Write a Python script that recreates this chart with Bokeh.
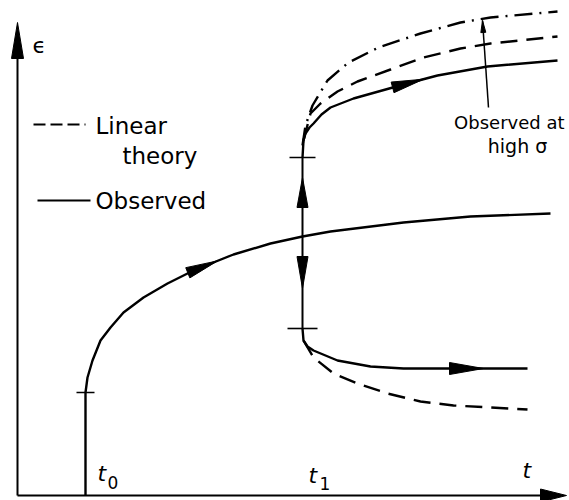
import numpy as np
from bokeh.plotting import figure
from bokeh.models import Range1d, Label
from bokeh.embed import file_html
from bokeh.resources import INLINE

# ---- data: time t, strain eps (arbitrary units) ----
t0, t1 = 68, 285
axis_t_end, axis_eps_end = 549, 473

primary_t = [68, 68, 70, 75, 83, 93, 106, 126, 150, 176, 216, 253, 285, 313, 386, 453, 533]
primary_eps = [0, 103, 118, 135, 155, 168, 183, 198, 212, 225, 241, 252, 259, 264, 273, 279, 282]

upper_obs_t = [285, 286, 288, 292, 296, 304, 313, 336, 386, 420, 470, 540]
upper_obs_eps = [338, 355, 362, 368, 372, 381, 388, 397, 411, 420, 429, 435]

upper_lin_t = [286, 293, 303, 320, 340, 373, 406, 443, 473, 540]
upper_lin_eps = [355, 382, 392, 404, 414, 426, 438, 447, 452, 459]

upper_high_t = [285, 288, 295, 310, 331, 361, 403, 443, 473, 540]
upper_high_eps = [350, 370, 390, 415, 433, 448, 462, 473, 478, 484]

lower_obs_t = [285, 286, 290, 296, 320, 353, 386, 510]
lower_obs_eps = [167, 155, 149, 145, 135, 129, 127, 127]

lower_lin_t = [286, 296, 316, 340, 370, 403, 436, 510]
lower_lin_eps = [155, 138, 122, 112, 102, 94, 90, 86]

t1_upper_eps, t1_lower_eps = 338, 167
t0_mark_eps = 103

pointer_t = [471, 465]
pointer_eps = [388, 475]

x_min, x_max = -17, 552
y_min, y_max = -5, 495

p = figure(width=569, height=500, output_backend="svg", toolbar_location=None,
           x_range=Range1d(x_min, x_max), y_range=Range1d(y_min, y_max),
           x_axis_type=None, y_axis_type=None, min_border=0)
p.grid.visible = False
p.outline_line_color = None
p.background_fill_color = "white"

LW = 2.4
K = "black"

# axes
p.line([0, 0], [0, axis_eps_end - 10], line_color=K, line_width=2)
p.line([0, axis_t_end - 10], [0, 0], line_color=K, line_width=2)

# curves
p.line(primary_t, primary_eps, line_color=K, line_width=LW)
p.line(upper_obs_t, upper_obs_eps, line_color=K, line_width=LW)
p.line(lower_obs_t, lower_obs_eps, line_color=K, line_width=LW)
p.line(upper_lin_t, upper_lin_eps, line_color=K, line_width=LW, line_dash="17 9")
p.line(lower_lin_t, lower_lin_eps, line_color=K, line_width=LW, line_dash="17 9")
p.line(upper_high_t, upper_high_eps, line_color=K, line_width=LW, line_dash="18 7 2 7")

# vertical at t1
p.line([t1, t1], [t1_lower_eps, t1_upper_eps], line_color=K, line_width=2)

# marks
p.segment(x0=[t0 - 9, t1 - 13, t1 - 15], y0=[t0_mark_eps, t1_upper_eps, t1_lower_eps],
          x1=[t0 + 9, t1 + 13, t1 + 15], y1=[t0_mark_eps, t1_upper_eps, t1_lower_eps],
          line_color=K, line_width=1.6)

# pointer
p.line(pointer_t, pointer_eps, line_color=K, line_width=1.5)


def tri(x, y, d, length, width):
    d = np.asarray(d, float)
    d = d / np.hypot(*d)
    n = np.array([-d[1], d[0]])
    b = np.array([x, y]) - d * length
    pts = [np.array([x, y]), b + n * width / 2, b - n * width / 2]
    return [q[0] for q in pts], [q[1] for q in pts]


def head_on(xs, ys, x_tip, length, width):
    """triangle head whose tip lies on a polyline at x_tip"""
    y_tip = float(np.interp(x_tip, xs, ys))
    y_back = float(np.interp(x_tip - 5, xs, ys))
    return tri(x_tip, y_tip, (5.0, y_tip - y_back), length, width)


heads = [
    head_on(primary_t, primary_eps, 200, 32, 11),
    head_on(upper_obs_t, upper_obs_eps, 406, 32, 11),
    head_on(lower_obs_t, lower_obs_eps, 466, 34, 12),
    tri(t1, 318, (0, 1), 30, 11),
    tri(t1, 207, (0, -1), 32, 11),
    tri(pointer_t[1], pointer_eps[1], (pointer_t[1] - pointer_t[0], pointer_eps[1] - pointer_eps[0]), 12, 5),
    tri(0, axis_eps_end, (0, 1), 36, 12),
    tri(axis_t_end, 0, (1, 0), 26, 13),
]
p.patches([h[0] for h in heads], [h[1] for h in heads], fill_color=K, line_color=K, line_width=1)

# legend
p.line([16, 68], [371, 371], line_color=K, line_width=2.2, line_dash="12 5")
p.line([20, 73], [295, 295], line_color=K, line_width=2.2)

F = "DejaVu Sans"


def lab(x, y, text, size, align="left", style="normal"):
    p.add_layout(Label(x=x, y=y, text=text, text_font=F, text_font_size=f"{size}px",
                       text_align=align, text_baseline="alphabetic", text_color=K,
                       text_font_style=style))


lab(78, 370, "Linear", 23)
lab(105, 340, "theory", 23)
lab(78, 295, "Observed", 23)
lab(547, 373, "Observed at", 18, align="right")
lab(500, 350, "high σ", 19, align="center")
lab(15, 450, "ϵ", 22)
lab(80, 22, "t", 22, style="italic")
lab(90, 13, "0", 17)
lab(291, 20, "t", 22, style="italic")
lab(302, 12, "1", 17)
lab(505, 25, "t", 22, style="italic")

open("out.html", "w").write(file_html(p, INLINE))
